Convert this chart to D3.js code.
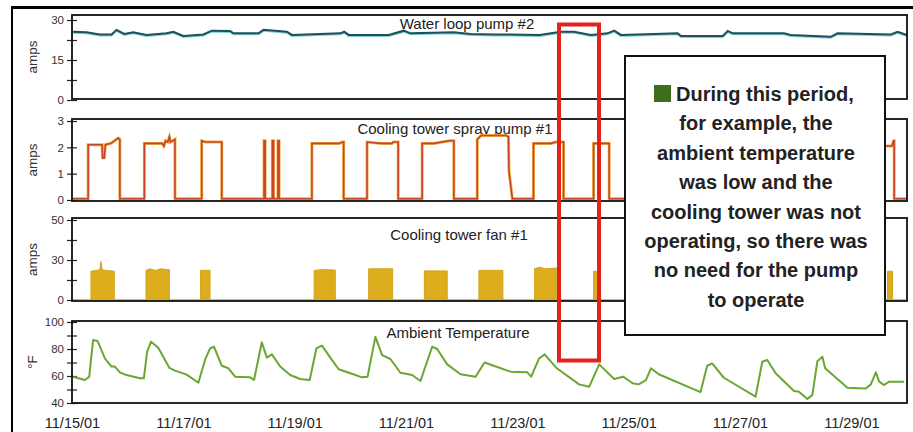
<!DOCTYPE html>
<html>
<head>
<meta charset="utf-8">
<script src="https://cdn.jsdelivr.net/npm/d3@7"></script>
<style>
  body { margin: 0; background: #fff; }
  svg { display: block; font-family: "Liberation Sans", Arial, sans-serif; }
</style>
</head>
<body>
<svg id="chart"></svg>
<script>
// ---- data (day offset from 11/15/01 00:00, value) ----
var startDate = new Date(2001, 10, 15);
var endDate = new Date(2001, 10, 30);
var dateTicks = ["11/15/01", "11/17/01", "11/19/01", "11/21/01", "11/23/01", "11/25/01", "11/27/01", "11/29/01"];

var waterPump = [
  [0.02,25.6],[0.26,25.4],[0.50,24.6],[0.71,24.6],[0.80,26.3],[0.94,24.75],[1.10,25.4],[1.34,24.4],
  [1.70,25.0],[1.82,25.6],[2.00,24.0],[2.36,24.6],[2.51,26.0],[2.84,25.9],[2.90,25.0],[3.35,25.0],
  [3.44,26.3],[3.86,25.6],[3.95,24.4],[4.82,25.0],[4.89,25.6],[4.97,24.4],[5.69,24.4],[5.96,26.0],
  [6.08,25.0],[6.86,25.4],[7.16,24.75],[7.6,24.6],[8.4,24.4],[8.78,25.6],[9.02,25.6],[9.32,24.4],
  [9.62,25.0],[9.74,26.0],[9.86,24.4],[10.88,25.0],[10.94,24.0],[11.69,24.0],[11.78,25.9],[11.87,25.0],
  [12.79,25.0],[12.91,24.4],[13.63,23.7],[13.75,25.0],[14.71,24.6],[14.83,25.6],[15.0,24.4]
];

var sprayPump = [
  [0,0.05],[0.29,0.05],[0.29,2.1],[0.54,2.1],[0.55,1.6],[0.58,1.6],[0.6,2.1],[0.7,2.15],[0.83,2.35],[0.86,2.3],[0.86,0.05],
  [1.30,0.05],[1.30,2.15],[1.62,2.15],[1.65,2.05],[1.68,2.25],[1.72,2.2],[1.75,2.4],[1.77,2.2],[1.85,2.3],[1.85,0.05],
  [2.33,0.05],[2.33,2.25],[2.4,2.2],[2.69,2.2],[2.69,0.05],
  [3.45,0.05],[3.45,2.25],[3.47,2.25],[3.47,0.05],[3.6,0.05],[3.6,2.25],[3.62,2.25],[3.62,0.05],
  [3.7,0.05],[3.7,2.25],[3.72,2.25],[3.72,0.05],
  [4.31,0.05],[4.31,2.15],[4.8,2.15],[4.86,2.2],[4.88,2.2],[4.88,0.05],
  [5.30,0.05],[5.30,2.2],[5.55,2.15],[5.75,2.15],[5.77,2.2],[5.86,2.2],[5.86,0.05],
  [6.29,0.05],[6.29,2.15],[6.5,2.15],[6.78,2.25],[6.86,2.25],[6.86,0.05],
  [7.28,0.05],[7.28,2.3],[7.35,2.45],[7.8,2.45],[7.84,2.4],[7.85,1.1],[7.91,0.05],
  [8.29,0.05],[8.29,2.15],[8.6,2.15],[8.7,2.2],[8.83,2.2],[8.83,0.05],
  [9.37,0.05],[9.37,2.15],[9.65,2.15],[9.65,0.05],
  [14.3,0.05],[14.3,2.05],[14.73,2.05],[14.76,2.25],[14.77,2.25],[14.77,0.05],[15,0.05]
];

var towerFan = [
  [0,0],[0.34,0],[0.34,18],[0.45,18.5],[0.5,19],[0.52,24],[0.54,19],[0.6,18.5],[0.76,18],[0.76,0],
  [1.33,0],[1.33,18.5],[1.4,19.5],[1.5,18.5],[1.6,19.5],[1.7,19],[1.75,19],[1.75,0],
  [2.31,0],[2.31,18.5],[2.48,18.5],[2.48,0],
  [4.35,0],[4.35,18.5],[4.5,19],[4.73,18.7],[4.73,0],
  [5.33,0],[5.33,19.5],[5.76,19.5],[5.76,0],
  [6.33,0],[6.33,18.2],[6.74,18.2],[6.74,0],
  [7.31,0],[7.31,18.5],[7.74,18.5],[7.74,0],
  [8.31,0],[8.31,19.5],[8.4,20.5],[8.5,19.5],[8.71,20],[8.71,0],
  [9.37,0],[9.37,18],[9.46,18],[9.46,0],
  [14.65,0],[14.65,18],[14.74,18],[14.74,0],[15,0]
];

var ambientTemp = [
  [0.02,59.5],[0.23,57],[0.31,59.5],[0.34,71.9],[0.38,86.7],[0.46,86],[0.59,73],[0.71,67],[0.77,67],
  [0.86,62.7],[0.98,60.7],[1.22,58.3],[1.29,58.3],[1.35,78],[1.42,85.4],[1.55,81],[1.75,66],[1.85,64],
  [2.06,61],[2.27,55],[2.39,72],[2.48,80.5],[2.55,81.7],[2.69,67.6],[2.81,65.7],[2.93,59.5],[3.20,59],
  [3.27,57],[3.41,85],[3.50,73.6],[3.59,76],[3.74,67],[3.92,60.7],[4.10,57.8],[4.27,57],[4.39,80.5],
  [4.49,82.5],[4.64,73.6],[4.79,65],[5.0,62],[5.21,59],[5.31,59.5],[5.45,89],[5.57,75.5],[5.72,72.6],
  [5.90,62.4],[6.11,60.7],[6.26,56.3],[6.47,81.7],[6.56,80],[6.74,68.6],[6.98,61.3],[7.25,59.5],
  [7.41,70],[7.55,68],[7.88,63.2],[8.18,62.7],[8.25,59.5],[8.39,73],[8.49,76],[8.71,65.7],[9.11,53.8],
  [9.29,52],[9.47,68.6],[9.74,57.8],[9.90,59.5],[10.07,54.6],[10.18,53.8],[10.31,57],[10.40,65.7],
  [10.54,61.3],[11.29,48],[11.41,67.6],[11.50,69.3],[11.71,58.7],[12.28,44.7],[12.40,70.6],[12.49,71.9],
  [12.64,62],[12.97,48.9],[13.06,48.4],[13.21,43],[13.30,46],[13.39,71],[13.48,74.3],[13.53,65.7],
  [13.93,51.3],[14.26,50.8],[14.35,53.8],[14.44,62.7],[14.50,55.8],[14.59,53.3],[14.68,55.8],[14.95,55.8]
];

var noteLines = ["During this period,", "for example, the", "ambient temperature", "was low and the",
  "cooling tower was not", "operating, so there was", "no need for the pump", "to operate"];

// ---- setup ----
var svg = d3.select("#chart")
    .attr("width", 913)
    .attr("height", 432);

var left = 72, right = 907;

var x = d3.scaleTime()
    .domain([startDate, endDate])
    .range([left, right]);

function dayDate(d) { return d3.timeMinute.offset(startDate, Math.round(d * 1440)); }

// outer frame of the page
svg.append("line").attr("x1", 12).attr("x2", 12).attr("y1", 6).attr("y2", 432)
    .attr("stroke", "#000").attr("stroke-width", 2);
svg.append("line").attr("x1", 11).attr("x2", 913).attr("y1", 7.5).attr("y2", 7.5)
    .attr("stroke", "#000").attr("stroke-width", 3);

var panels = [
  {title: "Water loop pump #2", unit: "amps", top: 15, bottom: 99, domain: [0, 30], range: [100, 20],
   ticks: [0, 7.5, 15, 22.5, 30], labels: {0: "0", 15: "15", 30: "30"}, titleX: 467, titleY: 29},
  {title: "Cooling tower spray pump #1", unit: "amps", top: 119, bottom: 201, domain: [0, 3], range: [200, 121],
   ticks: [0, 1, 2, 3], labels: {0: "0", 1: "1", 2: "2", 3: "3"}, titleX: 455, titleY: 134},
  {title: "Cooling tower fan #1", unit: "amps", top: 218, bottom: 301, domain: [0, 50], range: [300, 220],
   ticks: [0, 12.5, 25, 37.5, 50], labels: {0: "0", 25: "30", 50: "50"}, titleX: 459, titleY: 240},
  {title: "Ambient Temperature", unit: "\u00B0F", top: 321, bottom: 403, domain: [40, 100], range: [403, 322],
   ticks: [40, 50, 60, 70, 80, 90, 100], labels: {40: "40", 60: "60", 80: "80", 100: "100"}, titleX: 458, titleY: 338}
];

panels.forEach(function(p) {
  p.y = d3.scaleLinear().domain(p.domain).range(p.range);

  var ax = svg.append("g")
      .attr("transform", "translate(" + left + ",0)")
      .call(d3.axisLeft(p.y).tickValues(p.ticks).tickSize(5).tickPadding(3)
        .tickFormat(function(d) { return p.labels[d] || ""; }));
  ax.select(".domain").remove();
  ax.selectAll(".tick line").attr("x1", 5).attr("stroke", "#222").attr("stroke-width", 1.2);
  ax.selectAll(".tick text").attr("font-size", 11.5).attr("fill", "#333")
      .attr("font-family", "Liberation Sans, Arial, sans-serif");

  svg.append("text")
      .attr("transform", "translate(37," + ((p.top + p.bottom) / 2) + ") rotate(-90)")
      .attr("text-anchor", "middle")
      .attr("font-size", 13.5)
      .attr("fill", "#333")
      .text(p.unit);

  svg.append("text")
      .attr("x", p.titleX)
      .attr("y", p.titleY)
      .attr("text-anchor", "middle")
      .attr("font-size", 15)
      .attr("fill", "#222")
      .text(p.title);
});

// ---- series ----
function lineFor(p) {
  return d3.line()
      .x(function(d) { return x(dayDate(d[0])); })
      .y(function(d) { return p.y(d[1]); });
}

// water loop pump
svg.append("path").datum(waterPump)
    .attr("d", lineFor(panels[0])).attr("transform", "translate(0,1)")
    .attr("fill", "none").attr("stroke", "#7fd0d0").attr("stroke-width", 2);
svg.append("path").datum(waterPump)
    .attr("d", lineFor(panels[0]))
    .attr("fill", "none").attr("stroke", "#1d4f5c").attr("stroke-width", 2);

// spray pump
svg.append("path").datum(sprayPump)
    .attr("d", lineFor(panels[1]))
    .attr("fill", "none").attr("stroke", "#efb34a").attr("stroke-width", 3);
svg.append("path").datum(sprayPump)
    .attr("d", lineFor(panels[1]))
    .attr("fill", "none").attr("stroke", "#c9452a").attr("stroke-width", 1.6);

// tower fan
var fanArea = d3.area()
    .x(function(d) { return x(dayDate(d[0])); })
    .y0(panels[2].y(0))
    .y1(function(d) { return panels[2].y(d[1]); });
svg.append("path").datum(towerFan)
    .attr("d", fanArea)
    .attr("fill", "#dcae1d").attr("stroke", "#d4a418").attr("stroke-width", 1);

// ambient temperature
svg.append("path").datum(ambientTemp)
    .attr("d", lineFor(panels[3]))
    .attr("fill", "none").attr("stroke", "#6aa632").attr("stroke-width", 2)
    .attr("stroke-linejoin", "round");

// panel frames
panels.forEach(function(p) {
  svg.append("rect")
      .attr("x", left).attr("y", p.top)
      .attr("width", right - left).attr("height", p.bottom - p.top)
      .attr("fill", "none").attr("stroke", "#111").attr("stroke-width", 1.8);
});

// date axis
var xAxis = svg.append("g")
    .attr("transform", "translate(0,412)")
    .call(d3.axisBottom(x)
      .tickValues(dateTicks.map(function(s) { return d3.timeParse("%m/%d/%y")(s); }))
      .tickSize(0).tickPadding(6)
      .tickFormat(d3.timeFormat("%m/%d/%y")));
xAxis.select(".domain").remove();
xAxis.selectAll("text").attr("font-size", 14.5).attr("fill", "#222")
    .attr("font-family", "Liberation Sans, Arial, sans-serif");

// highlighted period
svg.append("rect")
    .attr("x", 559).attr("y", 24.5).attr("width", 40).attr("height", 336)
    .attr("fill", "none").attr("stroke", "#e4221c").attr("stroke-width", 4);

// note box
svg.append("rect")
    .attr("x", 625).attr("y", 56).attr("width", 260).attr("height", 279)
    .attr("fill", "#fff").attr("stroke", "#111").attr("stroke-width", 2);

svg.append("rect")
    .attr("x", 654).attr("y", 85).attr("width", 17).attr("height", 17)
    .attr("fill", "#3c6e1e");

svg.selectAll(".note")
  .data(noteLines)
  .enter().append("text")
    .attr("class", "note")
    .attr("x", function(d, i) { return i === 0 ? 676 : 756; })
    .attr("y", function(d, i) { return 101 + i * 29.4; })
    .attr("text-anchor", function(d, i) { return i === 0 ? "start" : "middle"; })
    .attr("font-size", 20)
    .attr("font-weight", "bold")
    .attr("fill", "#222")
    .text(function(d) { return d; });
</script>
</body>
</html>
